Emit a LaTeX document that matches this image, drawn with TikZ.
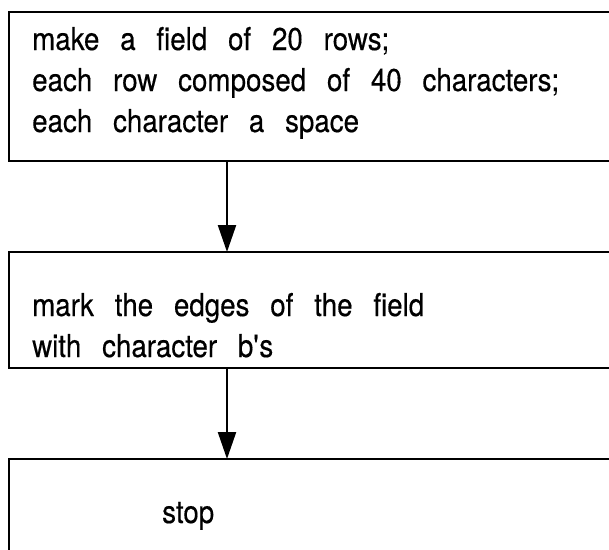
\documentclass[tikz,border=0pt]{standalone}
\usepackage{fontspec}
\setmainfont{TeX Gyre Heros}[FakeStretch=0.88,WordSpace=2.7,FakeBold=0.35]
\usetikzlibrary{arrows.meta}
\begin{document}
\begin{tikzpicture}[x=1pt,y=-1pt,
  stepbox/.style={draw,line width=2.6pt,rectangle,inner sep=0pt,outer sep=0pt,
    anchor=north west,minimum width=640pt},
  linetext/.style={anchor=base west,inner sep=0pt,
    font=\fontsize{31.5}{40}\selectfont},
  flow/.style={line width=2.3pt,-{Triangle[length=27pt,width=18pt]}}]
\useasboundingbox (0,0) rectangle (609,549);
\clip (0,0) rectangle (609,549);

% the three steps; their right sides (and the last one's bottom) run off the page
\node[stepbox,minimum height=149pt] (field) at (9,12) {};
\node[stepbox,minimum height=116pt] (edges) at (9,252) {};
\node[stepbox,minimum height=120pt] (halt)  at (9,459) {};

% step texts
\node[linetext] (field1) at (32,50)  {make a field of 20 rows;};
\node[linetext] (field2) at (32,91)  {each row composed of 40 characters;};
\node[linetext] (field3) at (32,132) {each character a space};
\node[linetext] (edges1) at (32,316) {mark the edges of the field};
\node[linetext] (edges2) at (32,357) {with character b\textquotesingle s};
\node[linetext] (stoptext) at (162,523) {stop};

% flow between the steps
\coordinate (spine) at (227,0);
\draw[flow] (spine |- field.south) -- (spine |- edges.north);
\draw[flow] (spine |- edges.south) -- (spine |- halt.north);
\end{tikzpicture}
\end{document}
